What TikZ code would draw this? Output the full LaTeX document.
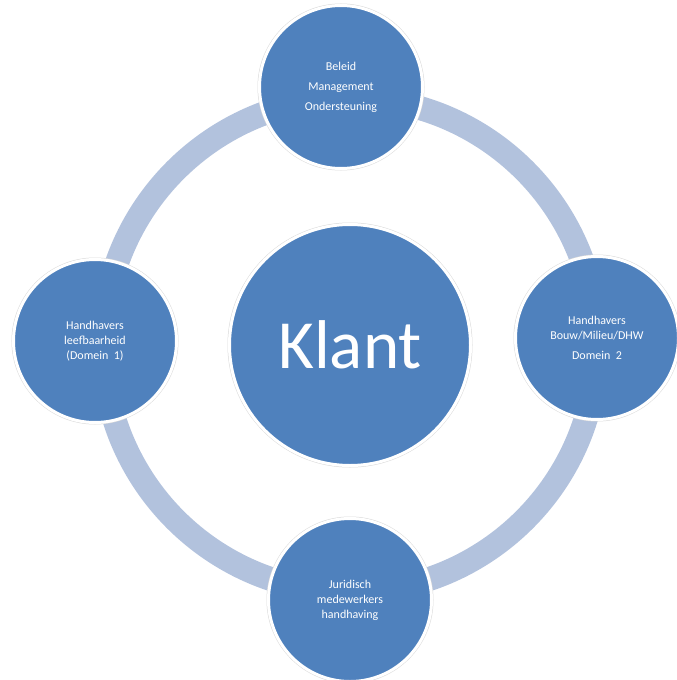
\documentclass[tikz,border=0pt]{standalone}
\usepackage{fontspec}
\setmainfont{Carlito}
\usepackage{tikz}
\definecolor{kblauw}{RGB}{79,129,189}
\definecolor{kring}{RGB}{178,194,221}

\begin{document}
\begin{tikzpicture}[x=1pt, y=-1pt, text=white,
	rond/.style={circle, fill=kblauw, draw=white, line width=3pt, inner sep=0pt, align=center,
		preaction={draw=black!15, line width=4pt}},
	klein/.style={rond, minimum size=163pt, font=\fontsize{12}{15}\selectfont},
	ring/.style={draw=kring, line width=24pt}]
	\useasboundingbox (0,0) rectangle (677,680);
	\draw[ring] (350,345) circle (247);
	\node[rond, minimum size=241pt, font=\fontsize{69}{80}\selectfont] (klant) at (350,345) {Klant};
	\node[klein] (beleid) at (341,87) {Beleid\\[5pt] Management\\[5pt] Ondersteuning};
	\node[klein] (bouw) at (597,338) {Handhavers\\ Bouw/Milieu/DHW\\[5pt] Domein\ \ 2};
	\node[klein] (juridisch) at (350,600) {Juridisch\\ medewerkers\\ handhaving};
	\node[klein] (leef) at (95,341) {Handhavers\\ leefbaarheid\\ (Domein\ \ 1)};
\end{tikzpicture}
\end{document}
